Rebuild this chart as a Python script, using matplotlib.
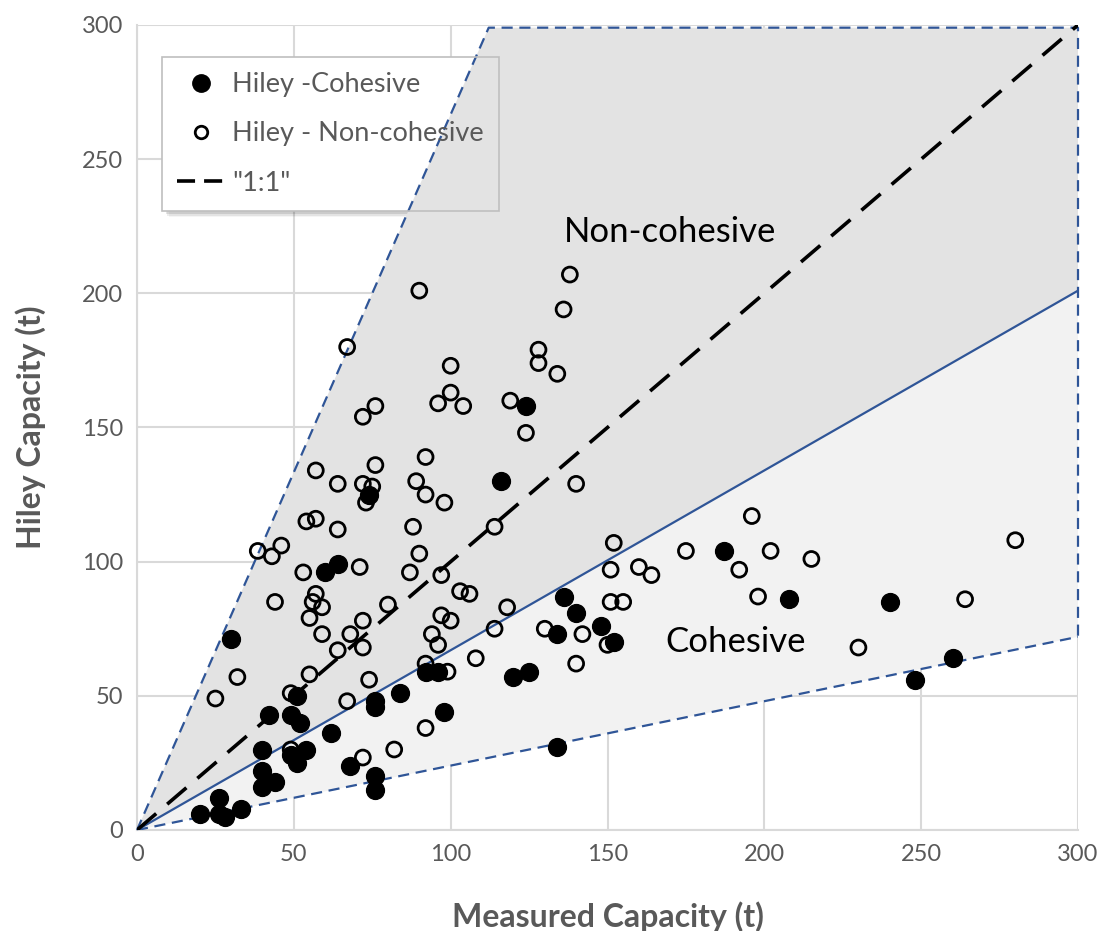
import matplotlib
matplotlib.use("Agg")
import matplotlib.pyplot as plt
from matplotlib.patches import Polygon, Rectangle
from matplotlib.lines import Line2D
import numpy as np

plt.rcParams['font.family'] = ['Lato', 'DejaVu Sans']

# ---- data (Measured, Hiley) ----
coh_measured = [20, 26, 28, 26, 33, 40, 40, 44, 40, 49, 54, 51, 62, 42, 49, 52, 51, 30,
                60, 64, 74, 68, 76, 76, 76, 76, 84, 92, 96, 98, 116, 124, 120, 125,
                134, 134, 136, 140, 148, 152, 187, 208, 240, 248, 260]
coh_hiley = [6, 6, 5, 12, 8, 16, 22, 18, 30, 28, 30, 25, 36, 43, 43, 40, 50, 71,
             96, 99, 125, 24, 20, 15, 48, 46, 51, 59, 59, 44, 130, 158, 57, 59,
             31, 73, 87, 81, 76, 70, 104, 86, 85, 56, 64]

non_measured = [25, 32, 38.5, 43, 46, 44, 53, 57, 56, 59, 55, 59, 55, 49, 49,
                90, 67, 100, 100, 96, 104, 76, 72, 92, 76, 57, 64, 72, 75, 73, 89, 92, 98,
                88, 64, 54, 57, 114,
                138, 136, 128, 128, 134, 119, 124, 140, 152,
                90, 71, 87, 97, 103, 106, 80, 72, 68, 72, 64, 97, 100, 94, 96, 74, 67,
                92, 99, 108, 114, 92, 82, 72,
                151, 160, 164, 151, 155, 118, 130, 142, 150, 140,
                196, 175, 202, 215, 192, 198, 280, 264, 230]
non_hiley = [49, 57, 104, 102, 106, 85, 96, 88, 85, 83, 79, 73, 58, 51, 30,
             201, 180, 173, 163, 159, 158, 158, 154, 139, 136, 134, 129, 129, 128, 122, 130, 125, 122,
             113, 112, 115, 116, 113,
             207, 194, 179, 174, 170, 160, 148, 129, 107,
             103, 98, 96, 95, 89, 88, 84, 78, 73, 68, 67, 80, 78, 73, 69, 56, 48,
             62, 59, 64, 75, 38, 30, 27,
             97, 98, 95, 85, 85, 83, 75, 73, 69, 62,
             117, 104, 104, 101, 97, 87, 108, 86, 68]

line_11 = [0, 300]
ticks = [0, 50, 100, 150, 200, 250, 300]

# region boundary slopes (Hiley / Measured)
slope_upper = 300 / 112.5
slope_mid = 201 / 300
slope_low = 72 / 300
top_y = 299

grey_txt = '#595959'
blue = '#2F5597'

fig = plt.figure(figsize=(11.02, 9.31), dpi=100)
ax = fig.add_axes([137/1102, 1 - 830/931, (1078-137)/1102, (830-25)/931])
ax.set_xlim(0, 300)
ax.set_ylim(0, 300)
ax.set_axisbelow(True)
ax.grid(True, color='#d9d9d9', lw=1.5, zorder=0.5)
for s in ['top', 'right']:
    ax.spines[s].set_visible(False)
for s in ['left', 'bottom']:
    ax.spines[s].set_color('#d9d9d9')
    ax.spines[s].set_linewidth(1.5)
ax.set_xticks(ticks)
ax.set_yticks(ticks)
ax.tick_params(length=0, labelsize=17, labelcolor=grey_txt, pad=10)

# regions
x_top = top_y / slope_upper
noncoh = Polygon([(0, 0), (x_top, top_y), (300, top_y), (300, 300 * slope_mid)],
                 closed=True, facecolor='#e3e3e3', edgecolor='none', zorder=2)
coh = Polygon([(0, 0), (300, 300 * slope_mid), (300, 300 * slope_low)],
              closed=True, facecolor='#f2f2f2', edgecolor='none', zorder=2)
ax.add_patch(noncoh)
ax.add_patch(coh)
ax.plot([0, x_top, 300, 300], [0, top_y, top_y, 300 * slope_low], color=blue, lw=1.6,
        ls=(0, (5, 3)), zorder=3, clip_on=False)
ax.plot([0, 300], [0, 300 * slope_low], color=blue, lw=1.6, ls=(0, (5, 3)), zorder=3)
ax.plot([0, 300], [0, 300 * slope_mid], color=blue, lw=1.6, zorder=3)

ax.plot(line_11, line_11, color='black', lw=2.6, ls=(0, (7, 4)), zorder=3.5)

ax.scatter(non_measured, non_hiley, s=115, facecolors='none', edgecolors='black',
           linewidths=2.0, zorder=4)
ax.scatter(coh_measured, coh_hiley, s=165, color='black', zorder=4.5)

ax.text(170, 223, 'Non-cohesive', fontsize=25, ha='center', va='center', zorder=6)
ax.text(191, 70, 'Cohesive', fontsize=25, ha='center', va='center', zorder=6)

ax.set_xlabel('Measured Capacity (t)', fontsize=23, fontweight='bold', color=grey_txt, labelpad=26)
ax.set_ylabel('Hiley Capacity (t)', fontsize=23, fontweight='bold', color=grey_txt, labelpad=26)

handles = [Line2D([], [], ls='none', marker='o', markersize=12.5, color='black'),
           Line2D([], [], ls='none', marker='o', markersize=9, markerfacecolor='none',
                  markeredgecolor='black', markeredgewidth=2),
           Line2D([], [], color='black', lw=2.6, ls=(0, (5, 2.5)))]
labels = ['Hiley -Cohesive', 'Hiley - Non-cohesive', '"1:1"']
leg = ax.legend(handles, labels, loc='upper left', bbox_to_anchor=(0.0266, 0.960),
                borderaxespad=0, fontsize=19.5, labelcolor=grey_txt, frameon=True,
                fancybox=False, edgecolor='#bfbfbf', framealpha=1, facecolor='none',
                borderpad=0.55, labelspacing=0.9, handlelength=1.75, handletextpad=0.3)
leg.get_frame().set_linewidth(1.2)
leg.set_zorder(7)

# white backing under the legend (hides gridlines only)
fig.canvas.draw()
bb = leg.get_frame().get_window_extent().transformed(ax.transAxes.inverted())
ax.add_patch(Rectangle((bb.x0, bb.y0), bb.width, bb.height, transform=ax.transAxes,
                       facecolor='white', edgecolor='none', zorder=0.8))
# soft shadow
for i, a in enumerate([0.10, 0.07, 0.04]):
    off = (i + 1) * 1.5
    sh = leg.get_frame().get_window_extent()
    ax.add_patch(Rectangle((sh.x0 + off + 2, sh.y0 - off - 2), sh.width, sh.height,
                           transform=None, facecolor='black', alpha=a, edgecolor='none',
                           zorder=0.75))

fig.savefig('out.png', dpi=100)
